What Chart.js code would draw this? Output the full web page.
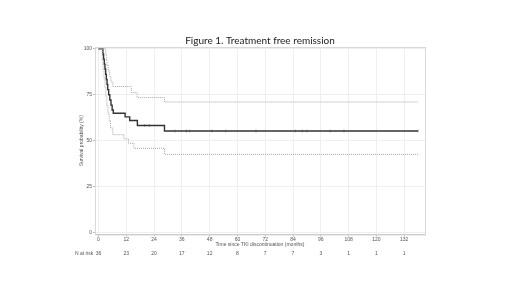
<!DOCTYPE html>
<html>
<head>
<meta charset="utf-8">
<script src="https://cdn.jsdelivr.net/npm/chart.js@4"></script>
<style>
  html, body { margin: 0; padding: 0; background: #fff; }
  #wrap { width: 520px; height: 292px; }
</style>
</head>
<body>
<div id="wrap"><canvas id="kmChart" width="520" height="292"></canvas></div>
<script>
// Kaplan-Meier estimate (months, %)
const survTimes = [0, 1.9, 2.2, 2.5, 2.8, 3.1, 3.4, 3.7, 4.0, 4.4, 4.9, 5.4, 5.9, 6.4, 11.5, 13.5, 16.8, 28.5, 138];
const survValues = [100, 97.2, 94.4, 91.7, 88.9, 86.1, 83.3, 80.6, 77.8, 75, 72.2, 69.4, 66.7, 65, 63, 61, 58.3, 55.3, 55.3];

// upper 95% CI
const upperTimes = [0, 3.2, 3.4, 3.7, 4.2, 4.8, 5.4, 6.2, 14.2, 16.7, 28.5, 138];
const upperValues = [100, 97, 94, 91, 88, 85, 82, 79.5, 76.2, 73.5, 71.1, 71.1];

// lower 95% CI
const lowerTimes = [0, 1.6, 2.0, 2.4, 2.8, 3.2, 3.6, 4.1, 4.6, 5.2, 6.2, 11, 13, 15.3, 28.5, 138];
const lowerValues = [100, 94, 89, 84, 79, 74, 69, 65, 61, 57, 53.3, 51, 48.6, 45.9, 42.6, 42.6];

// censored observations
const censorTimes = [20, 22, 33, 38, 39.5, 49, 55, 68, 85, 88, 90, 100, 106, 138];

const xTicks = [0, 12, 24, 36, 48, 60, 72, 84, 96, 108, 120, 132];
const yTicks = [0, 25, 50, 75, 100];
const atRisk = [36, 23, 20, 17, 12, 8, 7, 7, 3, 1, 1, 1];

function toPoints(xs, ys) {
  return xs.map((x, i) => ({ x: x, y: ys[i] }));
}

// value of the KM step curve at time t
function survAt(t) {
  let v = survValues[0];
  survTimes.forEach((s, i) => { if (s <= t) v = survValues[i]; });
  return v;
}

const tickFont = { family: "Liberation Sans", size: 5 };

const extras = {
  id: "extras",
  beforeDatasetsDraw(chart) {
    const { ctx, chartArea: a } = chart;
    ctx.save();
    ctx.strokeStyle = "#d9d9d9";
    ctx.lineWidth = 1;
    ctx.strokeRect(a.left + 0.5, a.top + 0.5, a.width, a.height);
    ctx.restore();
  },
  afterDraw(chart) {
    const { ctx } = chart;
    const xs = chart.scales.x;
    ctx.save();
    // figure title
    ctx.font = "10px Lato";
    ctx.fillStyle = "#222";
    ctx.textAlign = "center";
    ctx.textBaseline = "middle";
    ctx.fillText("Figure 1. Treatment free remission", 260, 40.5);
    // number at risk row
    ctx.font = "5px 'Liberation Sans'";
    ctx.fillStyle = "#555";
    ctx.textAlign = "left";
    ctx.fillText("N at risk", 75, 253.5);
    ctx.textAlign = "center";
    xTicks.forEach((t, i) => {
      ctx.fillText(String(atRisk[i]), xs.getPixelForValue(t), 253.5);
    });
    ctx.restore();
  }
};

new Chart(document.getElementById("kmChart"), {
  type: "line",
  data: {
    datasets: [
      {
        label: "Upper CI",
        data: toPoints(upperTimes, upperValues),
        borderColor: "#a6a6a6",
        borderWidth: 1,
        borderDash: [1, 1],
        stepped: true,
        pointRadius: 0,
        fill: false,
      },
      {
        label: "Lower CI",
        data: toPoints(lowerTimes, lowerValues),
        borderColor: "#a6a6a6",
        borderWidth: 1,
        borderDash: [1, 1],
        stepped: true,
        pointRadius: 0,
        fill: false,
      },
      {
        label: "Survival",
        data: toPoints(survTimes, survValues),
        borderColor: "#333333",
        borderWidth: 1.4,
        stepped: true,
        pointRadius: 0,
        fill: false,
      },
      {
        label: "Censored",
        type: "scatter",
        data: censorTimes.map(t => ({ x: t, y: survAt(t) })),
        pointStyle: "line",
        rotation: 90,
        radius: 1.4,
        borderColor: "#666666",
        borderWidth: 0.6,
        showLine: false,
      },
    ],
  },
  options: {
    responsive: false,
    animation: false,
    layout: { padding: { left: 79, right: 95, top: 47, bottom: 44.5 } },
    plugins: {
      legend: { display: false },
      tooltip: { enabled: false },
      title: { display: false },
    },
    scales: {
      x: {
        type: "linear",
        min: -1.5,
        max: 141,
        afterBuildTicks: (s) => { s.ticks = xTicks.map(v => ({ value: v })); },
        afterFit: (s) => { s.height = 13; },
        ticks: { font: tickFont, color: "#555", padding: 0.5, maxRotation: 0 },
        grid: { color: "#efefef", lineWidth: 1, tickLength: 2, tickColor: "#bbb" },
        border: { color: "#bfbfbf" },
        title: {
          display: true,
          text: "Time since TKI discontinuation (months)",
          color: "#555",
          font: tickFont,
          padding: { top: 0, bottom: 0 },
        },
      },
      y: {
        min: -1,
        max: 101,
        afterBuildTicks: (s) => { s.ticks = yTicks.map(v => ({ value: v })); },
        afterFit: (s) => { s.width = 16; },
        ticks: { font: tickFont, color: "#555", padding: 1 },
        grid: { color: "#efefef", lineWidth: 1, tickLength: 2, tickColor: "#bbb" },
        border: { color: "#bfbfbf" },
        title: {
          display: true,
          text: "Survival probability (%)",
          color: "#555",
          font: tickFont,
          padding: { top: 0, bottom: 0 },
        },
      },
    },
  },
  plugins: [extras],
});
</script>
</body>
</html>
